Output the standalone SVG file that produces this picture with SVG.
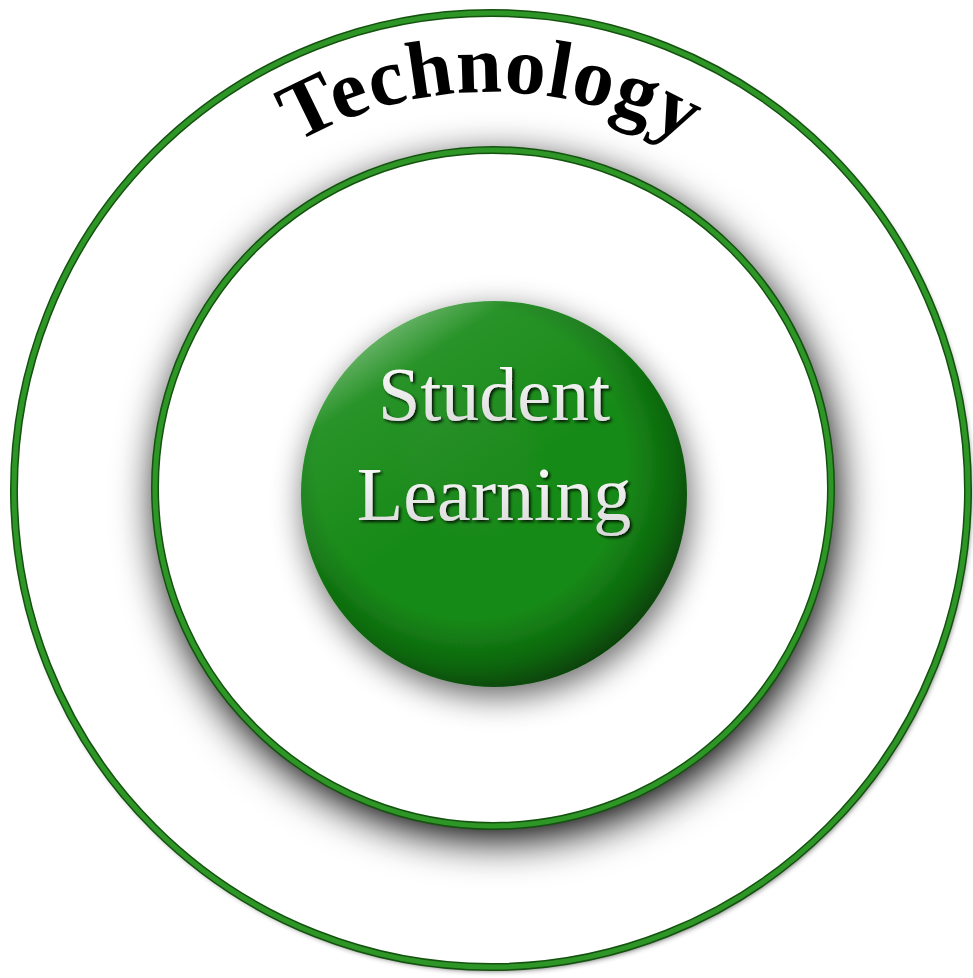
<svg xmlns="http://www.w3.org/2000/svg" width="973" height="978" viewBox="0 0 973 978">
<style>
.ringDark{fill:none;stroke:#14520f;stroke-width:8}
.ringLight{fill:none;stroke:#2e9626;stroke-width:5}
.label{font-family:"Liberation Serif","Times New Roman",serif;text-anchor:middle}
</style>
<defs>
<filter id="shOuter" x="-10%" y="-10%" width="120%" height="120%">
<feGaussianBlur in="SourceAlpha" stdDeviation="3"/>
<feOffset dx="2" dy="3" result="b"/>
<feComponentTransfer><feFuncA type="linear" slope="0.8"/></feComponentTransfer>
<feMerge><feMergeNode/><feMergeNode in="SourceGraphic"/></feMerge>
</filter>
<filter id="shInner" x="-20%" y="-20%" width="140%" height="140%">
<feGaussianBlur in="SourceAlpha" stdDeviation="22"/>
<feOffset dx="4" dy="12" result="b"/>
<feComponentTransfer><feFuncA type="linear" slope="1.1"/></feComponentTransfer>
<feMerge><feMergeNode/><feMergeNode in="SourceGraphic"/></feMerge>
</filter>
<filter id="shSphere" x="-30%" y="-30%" width="160%" height="160%">
<feGaussianBlur in="SourceAlpha" stdDeviation="16"/>
<feOffset dx="3" dy="10" result="b"/>
<feComponentTransfer><feFuncA type="linear" slope="0.6"/></feComponentTransfer>
<feMerge><feMergeNode/><feMergeNode in="SourceGraphic"/></feMerge>
</filter>
<filter id="shText" x="-10%" y="-20%" width="120%" height="140%">
<feGaussianBlur in="SourceAlpha" stdDeviation="1.5"/>
<feOffset dx="2" dy="2" result="b"/>
<feComponentTransfer><feFuncA type="linear" slope="0.85"/></feComponentTransfer>
<feMerge><feMergeNode/><feMergeNode in="SourceGraphic"/></feMerge>
</filter>
<radialGradient id="sphereG" cx="0.44" cy="0.42" r="0.62">
<stop offset="0" stop-color="#1c8a1c"/>
<stop offset="0.65" stop-color="#168a16"/>
<stop offset="0.85" stop-color="#0e660e"/>
<stop offset="1" stop-color="#043804"/>
</radialGradient>
<linearGradient id="hiG" x1="0.25" y1="0" x2="0.55" y2="0.45">
<stop offset="0" stop-color="#ffffff" stop-opacity="0.45"/>
<stop offset="0.3" stop-color="#ffffff" stop-opacity="0.08"/>
<stop offset="1" stop-color="#ffffff" stop-opacity="0"/>
</linearGradient>
<linearGradient id="textG" x1="0" y1="0" x2="0" y2="1">
<stop offset="0" stop-color="#ffffff"/>
<stop offset="1" stop-color="#d8d8d8"/>
</linearGradient>
<path id="arc" d="M 93,490 A 398 398 0 0 1 889,490"/>
</defs>
<rect width="973" height="978" fill="#ffffff"/>
<g id="outer">
<circle cx="491" cy="490" r="477" fill="#ffffff" filter="url(#shOuter)"/>
<circle cx="491" cy="490" r="477" class="ringDark"/>
<circle cx="491" cy="490" r="477" class="ringLight"/>
</g>
<g id="inner">
<circle cx="493" cy="488" r="338" fill="#ffffff" filter="url(#shInner)"/>
<circle cx="493" cy="488" r="338" class="ringDark"/>
<circle cx="493" cy="488" r="338" class="ringLight"/>
</g>
<g id="technology-label">
<text class="label" font-weight="bold" font-size="82" letter-spacing="1" fill="#000000"><textPath href="#arc" startOffset="50%">Technology</textPath></text>
</g>
<g id="center">
<circle cx="494" cy="494" r="193" fill="url(#sphereG)" filter="url(#shSphere)"/>
<circle cx="494" cy="494" r="193" fill="url(#hiG)"/>
<g filter="url(#shText)">
<text class="label" x="494" y="420" font-size="76" fill="url(#textG)">Student</text>
<text class="label" x="494" y="520" font-size="76" fill="url(#textG)">Learning</text>
</g>
</g>
<g id="connectors"/>
</svg>
